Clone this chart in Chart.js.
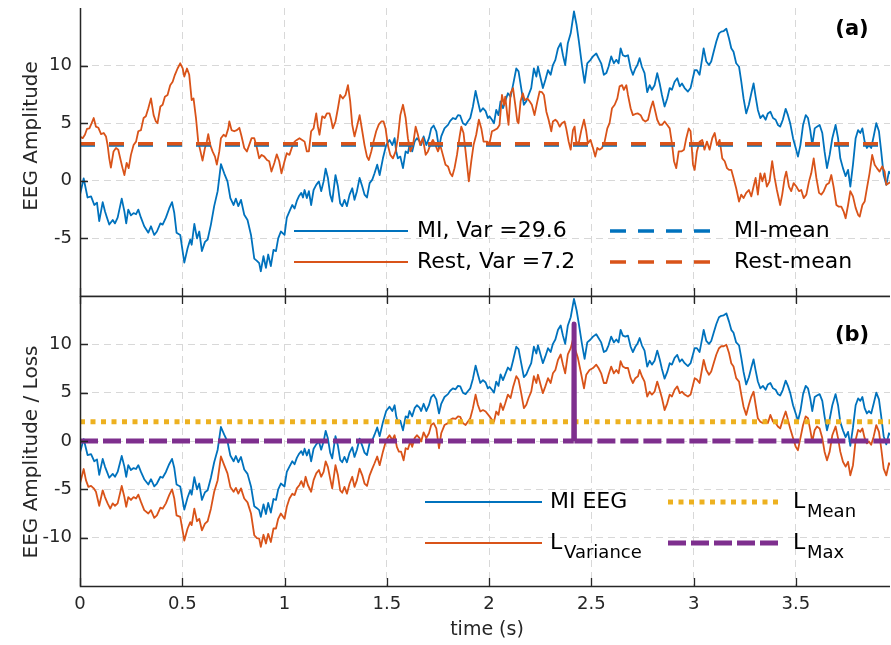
<!DOCTYPE html>
<html><head><meta charset="utf-8">
<script src="https://cdn.jsdelivr.net/npm/chart.js@4.4.0/dist/chart.umd.min.js"></script>
<style>
html,body{margin:0;padding:0;background:#fff;width:891px;height:645px;overflow:hidden;}
#wa{position:absolute;left:0;top:0;width:891px;height:297px;}
#wb{position:absolute;left:0;top:290px;width:891px;height:355px;}
canvas{display:block;}
</style></head><body>
<div id="wa"><canvas id="ca" width="891" height="297"></canvas></div>
<div id="wb"><canvas id="cb" width="891" height="355"></canvas></div>
<script>
// ---------------- data ----------------
const miTime = [0.000,0.018,0.037,0.054,0.070,0.083,0.094,0.111,0.122,0.132,0.143,0.160,0.171,0.184,0.204,0.217,0.226,0.236,0.249,0.262,0.274,0.285,0.298,0.314,0.334,0.347,0.363,0.376,0.393,0.404,0.420,0.436,0.450,0.461,0.472,0.490,0.510,0.526,0.539,0.546,0.559,0.572,0.583,0.596,0.611,0.624,0.640,0.656,0.673,0.689,0.705,0.721,0.735,0.751,0.762,0.774,0.787,0.803,0.819,0.836,0.852,0.865,0.876,0.884,0.897,0.909,0.920,0.933,0.946,0.958,0.969,0.982,1.000,1.011,1.024,1.038,1.049,1.060,1.070,1.082,1.090,1.098,1.109,1.119,1.130,1.142,1.155,1.168,1.179,1.191,1.201,1.212,1.223,1.233,1.249,1.261,1.272,1.282,1.293,1.305,1.318,1.331,1.342,1.354,1.367,1.380,1.391,1.403,1.416,1.429,1.440,1.453,1.465,1.481,1.497,1.513,1.527,1.538,1.546,1.554,1.566,1.579,1.592,1.603,1.611,1.624,1.636,1.647,1.660,1.668,1.680,1.693,1.706,1.717,1.729,1.742,1.755,1.766,1.782,1.799,1.810,1.823,1.836,1.848,1.859,1.872,1.885,1.896,1.908,1.921,1.934,1.945,1.957,1.970,1.983,1.994,2.002,2.014,2.024,2.035,2.046,2.056,2.068,2.079,2.092,2.105,2.117,2.133,2.144,2.157,2.170,2.182,2.193,2.206,2.219,2.231,2.239,2.252,2.263,2.275,2.288,2.301,2.312,2.324,2.337,2.350,2.361,2.372,2.385,2.399,2.415,2.428,2.439,2.454,2.467,2.480,2.496,2.508,2.524,2.535,2.548,2.561,2.573,2.584,2.597,2.610,2.622,2.633,2.643,2.654,2.666,2.679,2.692,2.703,2.715,2.725,2.736,2.747,2.760,2.773,2.785,2.796,2.809,2.822,2.834,2.845,2.858,2.871,2.883,2.894,2.907,2.920,2.932,2.943,2.956,2.972,2.985,3.005,3.016,3.029,3.042,3.049,3.062,3.075,3.086,3.098,3.111,3.124,3.135,3.147,3.160,3.173,3.184,3.195,3.208,3.222,3.233,3.244,3.257,3.270,3.282,3.293,3.303,3.314,3.326,3.339,3.352,3.363,3.375,3.388,3.401,3.412,3.423,3.436,3.450,3.461,3.472,3.486,3.499,3.510,3.522,3.535,3.548,3.559,3.570,3.580,3.592,3.603,3.616,3.629,3.640,3.652,3.665,3.678,3.694,3.706,3.717,3.730,3.743,3.755,3.766,3.779,3.792,3.804,3.815,3.825,3.836,3.847,3.857,3.868,3.880,3.893,3.906,3.917,3.929,3.942,3.955,3.960];
const miValues = [-1.2,0.2,-1.45,-1.35,-2.1,-1.9,-3.5,-1.85,-2.65,-3.2,-3.8,-3.4,-3.7,-3.2,-1.55,-2.65,-3.7,-2.5,-3.0,-2.8,-2.9,-2.5,-3.2,-3.95,-4.5,-3.95,-4.7,-4.4,-3.7,-3.8,-3.2,-2.4,-1.85,-2.8,-4.5,-4.7,-7.1,-5.85,-5.1,-5.55,-3.75,-5.0,-4.4,-6.1,-5.3,-5.1,-3.8,-2.2,-0.9,1.45,0.65,-0.05,-1.5,-2.1,-1.55,-2.2,-1.65,-2.95,-3.4,-4.7,-6.75,-6.95,-7.15,-7.85,-6.55,-7.55,-6.4,-7.4,-6.0,-6.1,-5.0,-4.4,-4.7,-3.2,-2.65,-2.1,-2.4,-1.75,-1.35,-1.05,-1.45,-0.8,-1.5,-0.9,-2.1,-0.8,-0.35,-0.05,-0.9,-0.05,1.05,0.25,-1.2,-1.8,0.5,-0.5,-1.95,-2.2,-1.65,-2.2,-1.2,-0.65,-1.65,-0.9,0.25,-0.5,-1.2,-1.45,-0.2,0.1,0.65,1.4,0.5,1.95,3.1,3.55,3.1,3.7,2.55,1.95,2.1,1.1,2.55,2.4,3.1,2.55,3.4,3.7,3.45,3.1,3.85,3.1,3.7,4.55,4.8,4.3,2.85,3.85,4.55,4.85,5.2,5.45,5.35,5.7,5.65,5.0,4.85,5.15,5.45,6.45,7.8,6.9,6.0,6.3,6.05,5.45,5.6,5.3,5.0,6.15,5.7,6.9,6.3,6.9,7.6,7.3,8.3,9.75,9.5,8.05,6.6,6.9,7.45,8.05,9.75,9.05,9.9,8.9,8.05,8.75,9.6,9.2,10.05,10.5,11.5,11.95,10.9,10.05,11.95,12.8,14.7,13.5,12.1,10.05,8.5,10.2,10.5,10.8,11.05,10.65,10.2,9.2,9.35,9.9,10.8,10.2,10.5,10.2,11.5,10.9,10.8,10.9,9.75,9.2,9.75,10.05,10.65,9.9,9.35,7.7,8.3,7.9,8.3,9.35,8.45,7.45,6.45,7.15,8.05,7.9,8.6,8.9,8.2,8.45,8.05,7.75,8.05,9.6,9.6,9.2,10.65,11.5,10.35,10.05,10.35,11.2,12.1,12.8,12.95,13.0,13.2,12.35,11.5,11.2,10.2,9.9,8.6,7.15,5.85,6.6,7.6,8.45,7.3,6.15,5.45,5.7,5.3,5.85,6.0,5.45,5.3,4.85,4.7,5.3,6.25,5.7,5.0,3.7,2.85,2.1,3.1,4.85,5.7,5.45,4.4,3.1,4.55,4.7,4.85,4.15,2.55,1.1,2.25,3.7,4.85,3.7,1.95,1.1,0.4,0.95,-0.5,1.4,3.7,4.4,4.15,4.55,3.4,2.85,3.1,2.85,3.85,5.0,4.3,2.55,0.5,-0.35,0.8,0.6];

const restTime = [0.000,0.013,0.024,0.034,0.046,0.057,0.067,0.078,0.090,0.103,0.116,0.127,0.135,0.143,0.151,0.164,0.176,0.187,0.200,0.208,0.217,0.228,0.238,0.249,0.262,0.274,0.285,0.298,0.311,0.322,0.334,0.347,0.360,0.371,0.379,0.393,0.404,0.415,0.428,0.441,0.453,0.464,0.477,0.490,0.502,0.510,0.523,0.534,0.546,0.555,0.567,0.578,0.591,0.599,0.611,0.620,0.627,0.637,0.648,0.660,0.669,0.681,0.689,0.702,0.713,0.725,0.730,0.741,0.754,0.767,0.779,0.790,0.803,0.816,0.827,0.839,0.852,0.865,0.876,0.888,0.901,0.914,0.925,0.936,0.950,0.962,0.974,0.985,1.000,1.011,1.024,1.038,1.049,1.060,1.073,1.086,1.098,1.109,1.119,1.130,1.142,1.155,1.163,1.171,1.184,1.196,1.207,1.220,1.228,1.236,1.249,1.261,1.272,1.285,1.298,1.310,1.321,1.331,1.342,1.354,1.367,1.380,1.391,1.403,1.412,1.424,1.435,1.448,1.461,1.473,1.484,1.494,1.505,1.517,1.530,1.543,1.554,1.566,1.579,1.592,1.603,1.615,1.628,1.641,1.652,1.663,1.676,1.690,1.701,1.712,1.725,1.738,1.750,1.761,1.774,1.787,1.799,1.810,1.820,1.831,1.843,1.856,1.864,1.875,1.885,1.892,1.901,1.913,1.924,1.937,1.950,1.962,1.973,1.991,2.002,2.014,2.027,2.040,2.051,2.063,2.073,2.079,2.089,2.095,2.105,2.117,2.128,2.138,2.144,2.154,2.165,2.174,2.187,2.198,2.209,2.222,2.236,2.247,2.258,2.268,2.280,2.291,2.304,2.312,2.324,2.333,2.345,2.356,2.369,2.377,2.389,2.399,2.410,2.418,2.426,2.438,2.451,2.464,2.475,2.483,2.496,2.508,2.519,2.529,2.540,2.552,2.565,2.578,2.589,2.601,2.614,2.627,2.638,2.650,2.659,2.671,2.679,2.692,2.703,2.715,2.728,2.741,2.752,2.764,2.777,2.790,2.801,2.813,2.822,2.834,2.845,2.858,2.871,2.883,2.894,2.904,2.915,2.927,2.940,2.953,2.964,2.976,2.985,2.997,3.005,3.016,3.029,3.042,3.053,3.065,3.078,3.091,3.103,3.114,3.127,3.140,3.152,3.163,3.173,3.184,3.195,3.208,3.222,3.233,3.244,3.257,3.270,3.282,3.293,3.303,3.314,3.326,3.336,3.347,3.358,3.371,3.384,3.396,3.407,3.423,3.433,3.445,3.453,3.466,3.477,3.489,3.502,3.515,3.526,3.538,3.551,3.564,3.575,3.587,3.600,3.613,3.624,3.636,3.649,3.662,3.673,3.684,3.698,3.710,3.722,3.733,3.743,3.755,3.766,3.779,3.792,3.804,3.812,3.825,3.836,3.847,3.860,3.873,3.885,3.896,3.909,3.922,3.934,3.942,3.955,3.960];
const restValues = [3.85,3.7,4.0,4.5,4.55,5.0,5.45,4.7,4.6,4.05,4.15,3.85,3.1,1.95,1.15,2.55,2.85,2.7,1.7,1.1,0.5,1.55,1.1,2.25,3.1,3.4,4.3,4.4,5.45,5.6,6.3,7.15,5.7,5.15,5.0,6.45,6.6,7.3,7.45,8.3,8.6,9.2,9.75,10.2,9.75,9.05,9.75,9.2,7.0,7.15,5.45,3.4,2.4,1.75,2.85,3.4,4.05,3.1,2.55,2.1,1.4,2.55,3.7,4.0,3.85,4.55,5.15,4.4,4.3,4.4,4.6,3.85,2.85,2.55,3.1,3.7,3.7,2.85,1.95,2.25,2.1,1.8,1.7,0.8,1.55,2.3,1.7,0.65,1.7,2.4,2.25,3.0,3.4,3.55,3.7,3.55,3.4,2.55,2.55,4.3,4.55,5.85,4.7,4.0,5.6,5.45,5.85,5.85,5.3,4.55,5.15,6.3,7.45,7.15,7.45,8.3,6.9,4.85,3.85,4.7,5.7,4.3,3.1,2.1,1.8,2.55,3.4,4.3,4.9,5.15,5.15,4.55,3.1,2.25,1.95,2.55,3.7,5.7,6.6,5.45,3.7,2.55,3.1,4.7,4.0,3.1,3.7,2.25,2.55,3.1,3.55,3.1,2.55,3.1,2.25,1.4,1.25,0.65,0.4,1.1,2.25,3.85,4.7,4.15,2.55,1.4,-0.05,1.7,3.1,4.0,5.3,4.55,3.4,3.4,3.25,4.3,4.4,4.55,4.85,7.45,6.6,7.3,5.7,4.85,7.6,8.05,6.6,5.15,5.0,6.9,7.6,7.0,7.15,6.9,6.6,5.7,6.9,7.75,7.7,7.45,6.0,5.3,4.3,5.15,5.3,5.15,4.7,5.0,5.15,4.55,3.4,2.7,4.4,4.7,3.4,3.25,4.4,5.3,4.3,3.25,3.55,2.85,2.1,2.85,2.7,2.85,3.4,4.55,5.0,6.3,6.6,7.15,8.2,8.3,7.9,8.3,7.45,6.3,5.7,5.8,5.85,5.7,5.3,5.15,5.3,6.3,6.9,6.0,5.3,4.85,4.85,5.15,4.85,4.55,3.25,1.7,1.1,2.55,2.55,2.7,3.7,4.55,4.3,1.4,0.95,2.55,3.4,3.55,2.7,3.4,2.7,3.7,4.15,3.1,3.55,1.95,1.7,1.1,0.95,0.95,0.25,-0.65,-1.8,-1.2,-1.5,-1.05,-0.8,-1.35,-0.5,0.25,-1.2,0.65,-0.05,0.65,-0.5,-0.05,1.7,0.25,-0.8,-2.1,-1.2,0.25,0.8,-0.5,-0.9,-0.2,-0.5,-0.9,-0.8,-1.5,-1.2,-0.05,0.65,1.95,0.25,-1.05,-1.2,-0.9,-0.35,-0.2,0.5,-0.5,-2.1,-2.25,-2.25,-2.65,-3.25,-2.1,-0.9,-1.35,-2.35,-2.95,-3.1,-2.1,-1.8,-0.65,0.65,2.25,1.4,1.1,0.8,1.25,0.8,-0.35,-0.2,-0.1];

const lVarTime = [0.000,0.018,0.029,0.041,0.054,0.067,0.078,0.094,0.111,0.122,0.135,0.148,0.160,0.171,0.184,0.204,0.217,0.226,0.236,0.249,0.262,0.274,0.285,0.298,0.314,0.334,0.347,0.363,0.376,0.393,0.404,0.420,0.436,0.450,0.461,0.472,0.490,0.510,0.526,0.539,0.546,0.559,0.572,0.583,0.596,0.611,0.624,0.640,0.656,0.673,0.689,0.705,0.721,0.735,0.751,0.762,0.774,0.787,0.803,0.819,0.836,0.852,0.865,0.876,0.884,0.897,0.909,0.920,0.933,0.946,0.958,0.969,0.982,1.000,1.011,1.024,1.038,1.049,1.060,1.073,1.082,1.093,1.103,1.114,1.130,1.142,1.155,1.168,1.179,1.191,1.201,1.212,1.223,1.233,1.249,1.261,1.272,1.282,1.293,1.305,1.318,1.331,1.342,1.354,1.367,1.380,1.391,1.403,1.416,1.429,1.440,1.453,1.465,1.481,1.497,1.513,1.527,1.538,1.549,1.559,1.570,1.582,1.592,1.603,1.615,1.624,1.636,1.647,1.660,1.668,1.680,1.693,1.706,1.717,1.729,1.742,1.755,1.766,1.782,1.799,1.810,1.823,1.836,1.848,1.859,1.872,1.885,1.896,1.908,1.921,1.934,1.945,1.957,1.970,1.983,2.002,2.014,2.024,2.035,2.046,2.056,2.068,2.079,2.092,2.105,2.117,2.133,2.144,2.157,2.170,2.182,2.193,2.206,2.219,2.231,2.239,2.252,2.263,2.275,2.288,2.301,2.312,2.324,2.337,2.350,2.361,2.372,2.385,2.399,2.410,2.421,2.434,2.451,2.464,2.475,2.491,2.508,2.524,2.535,2.548,2.561,2.573,2.584,2.597,2.610,2.622,2.633,2.643,2.654,2.666,2.679,2.692,2.703,2.715,2.728,2.736,2.747,2.760,2.773,2.785,2.796,2.809,2.822,2.834,2.845,2.858,2.871,2.883,2.894,2.907,2.920,2.932,2.943,2.956,2.972,2.985,3.005,3.016,3.029,3.042,3.049,3.062,3.075,3.086,3.098,3.111,3.124,3.135,3.147,3.160,3.173,3.184,3.195,3.208,3.222,3.233,3.244,3.257,3.270,3.282,3.293,3.303,3.314,3.326,3.339,3.352,3.363,3.375,3.388,3.401,3.412,3.423,3.436,3.450,3.461,3.472,3.486,3.499,3.510,3.522,3.535,3.548,3.559,3.570,3.580,3.592,3.603,3.616,3.629,3.640,3.652,3.665,3.678,3.694,3.706,3.717,3.730,3.743,3.755,3.766,3.779,3.792,3.804,3.815,3.825,3.836,3.847,3.857,3.868,3.880,3.893,3.906,3.917,3.929,3.942,3.955,3.960];
const lVarValues = [-4.4,-2.9,-4.05,-4.75,-4.65,-4.9,-5.25,-6.7,-5.1,-5.8,-6.45,-7.0,-6.45,-6.7,-6.45,-4.65,-5.8,-6.8,-5.8,-6.1,-5.8,-5.95,-5.55,-6.3,-7.15,-7.5,-7.15,-7.95,-7.7,-6.9,-7.0,-6.45,-5.6,-5.0,-5.95,-7.7,-7.85,-10.3,-9.05,-8.4,-8.7,-7.0,-8.3,-8.05,-9.25,-8.55,-8.3,-7.0,-5.25,-4.05,-1.6,-2.5,-3.35,-4.75,-5.25,-4.85,-5.45,-4.9,-5.95,-6.35,-7.5,-9.75,-10.05,-10.1,-10.95,-9.7,-10.6,-9.6,-10.45,-9.05,-9.05,-8.05,-7.5,-8.05,-6.8,-5.95,-5.45,-5.6,-4.9,-4.55,-4.15,-4.75,-3.7,-4.55,-5.25,-4.05,-3.35,-3.0,-3.7,-3.2,-2.1,-2.7,-3.9,-4.9,-2.5,-3.55,-5.1,-5.35,-4.75,-5.45,-4.4,-3.7,-4.75,-4.05,-2.85,-3.55,-4.4,-4.65,-3.55,-2.85,-2.3,-1.6,-2.5,-1.1,0.1,0.6,0.1,0.6,-0.6,-1.1,-1.1,-2.0,-0.75,-0.85,-0.05,-0.6,0.3,0.6,0.3,-0.05,0.9,0.3,0.8,1.65,1.85,1.3,-0.75,0.8,1.65,1.85,2.2,2.35,2.3,2.55,2.5,1.85,1.65,2.0,2.35,3.4,4.8,3.75,3.05,3.2,3.05,2.55,2.2,2.0,3.05,2.7,3.9,3.2,3.9,4.8,4.45,5.55,6.7,6.35,4.95,3.4,3.75,4.45,5.1,6.7,6.0,6.85,5.8,4.95,5.65,6.5,6.0,7.0,7.35,8.4,8.95,7.9,7.0,8.95,9.6,10.5,9.45,8.6,6.85,5.45,6.85,7.35,7.55,7.9,7.55,7.0,6.0,6.0,6.85,7.7,7.0,7.35,7.0,8.25,7.7,7.55,7.55,6.5,6.0,6.5,6.7,7.35,6.7,6.15,4.6,5.1,4.8,5.1,6.15,5.3,4.45,3.2,3.9,4.8,4.6,5.3,5.65,4.95,5.1,4.8,4.6,4.8,6.5,6.35,6.0,7.55,8.4,7.35,6.85,7.2,8.05,8.95,9.6,9.8,9.8,9.95,9.1,8.05,7.7,6.5,6.15,4.8,3.55,2.7,3.75,4.6,5.1,3.75,2.35,2.0,1.85,2.2,1.85,2.7,2.0,1.85,1.5,1.3,2.2,3.05,2.2,1.3,0.3,-0.6,-0.95,0.3,1.65,2.55,2.35,1.15,-0.05,1.15,1.5,1.3,0.3,-1.1,-2.0,-1.1,0.6,1.5,0.3,-1.1,-2.15,-2.65,-2.15,-3.55,-2.5,0.1,1.15,0.95,1.3,0.3,-0.25,-0.05,-0.4,0.45,1.65,0.95,-0.75,-2.85,-3.55,-2.3,-2.5];

const lMaxTime = [0, 2.4140, 2.4155, 2.4170, 3.960];
const lMaxValues = [0, 0, 12.1, 0, 0];

const miMean = 3.1;
const restMean = 3.22;
const lMean = 2.0;

const xTicks = [0, 0.5, 1, 1.5, 2, 2.5, 3, 3.5];
const xTickLabels = ['0', '0.5', '1', '1.5', '2', '2.5', '3', '3.5'];
const yTicksA = [-5, 0, 5, 10];
const yTicksB = [-10, -5, 0, 5, 10];
const legendA = ['MI, Var =29.6', 'Rest, Var =7.2', 'MI-mean', 'Rest-mean'];
const legendB = ['MI EEG', 'L', 'Variance', 'L', 'Mean', 'L', 'Max'];

// ---------------- styling ----------------
const XMAX = 3.96;
const BLUE = '#0072BD', ORANGE = '#D95319', YELLOW = '#EDB120', PURPLE = '#7E2F8E';
const AXIS = '#262626', GRID = '#d8d8d8';
const FONT = "'DejaVu Sans', sans-serif";
const LW = 1.8;

function pts(t, v) { return t.map((x, i) => ({ x: x, y: v[i] })); }
function flat(v) { return [{ x: 0, y: v }, { x: XMAX, y: v }]; }

function baseScales(yMin, yMax, yTicks, xHeight, showX) {
  return {
    x: {
      type: 'linear', min: 0, max: XMAX,
      afterBuildTicks: s => { s.ticks = xTicks.map(v => ({ value: v })); },
      afterFit: s => { s.height = xHeight; s.paddingLeft = 0; s.paddingRight = 0; s.paddingTop = 0; s.paddingBottom = 0; },
      ticks: {
        display: showX, autoSkip: false, maxRotation: 0, padding: 8,
        color: AXIS, font: { family: FONT, size: 18 },
        callback: (v) => { const i = xTicks.indexOf(v); return i >= 0 ? xTickLabels[i] : ''; }
      },
      grid: { color: GRID, lineWidth: 1, drawTicks: false },
      border: { display: false, dash: [7, 5] }
    },
    y: {
      type: 'linear', min: yMin, max: yMax,
      afterBuildTicks: s => { s.ticks = yTicks.map(v => ({ value: v })); },
      afterFit: s => { s.width = 80; s.paddingLeft = 0; s.paddingRight = 0; s.paddingTop = 0; s.paddingBottom = 0; },
      ticks: { padding: 8, color: AXIS, font: { family: FONT, size: 18 } },
      grid: { color: GRID, lineWidth: 1, drawTicks: false },
      border: { display: false, dash: [7, 5] }
    }
  };
}

function drawFrame(chart, yTicks, withTop) {
  const { ctx, chartArea: a, scales } = chart;
  ctx.save();
  ctx.strokeStyle = AXIS;
  ctx.lineWidth = 1.5;
  ctx.beginPath();
  ctx.moveTo(a.left + 0.5, a.top); ctx.lineTo(a.left + 0.5, a.bottom + 0.5); ctx.lineTo(a.right, a.bottom + 0.5);
  if (withTop) { ctx.moveTo(a.left, a.top + 0.5); ctx.lineTo(a.right, a.top + 0.5); }
  ctx.stroke();
  ctx.lineWidth = 1.3;
  ctx.beginPath();
  yTicks.forEach(v => { const y = Math.round(scales.y.getPixelForValue(v)) + 0.5; ctx.moveTo(a.left, y); ctx.lineTo(a.left + 8, y); });
  xTicks.forEach(v => {
    const x = Math.round(scales.x.getPixelForValue(v)) + 0.5;
    ctx.moveTo(x, a.bottom); ctx.lineTo(x, a.bottom - 8);
    if (withTop) { ctx.moveTo(x, a.top); ctx.lineTo(x, a.top + 8); }
  });
  ctx.stroke();
  ctx.restore();
}

function hline(ctx, x1, x2, y, color, w, dash) {
  ctx.save();
  ctx.strokeStyle = color; ctx.lineWidth = w; ctx.setLineDash(dash || []);
  ctx.lineCap = 'butt';
  ctx.beginPath(); ctx.moveTo(x1, y); ctx.lineTo(x2, y); ctx.stroke();
  ctx.restore();
}
function text(ctx, s, x, y, size, opts) {
  opts = opts || {};
  ctx.save();
  ctx.fillStyle = opts.color || '#000';
  ctx.font = (opts.bold ? 'bold ' : '') + size + 'px ' + FONT;
  ctx.textAlign = opts.align || 'left';
  ctx.textBaseline = opts.baseline || 'middle';
  if (opts.rotate) { ctx.translate(x, y); ctx.rotate(opts.rotate); ctx.fillText(s, 0, 0); }
  else ctx.fillText(s, x, y);
  ctx.restore();
}

// ---------------- panel (a) ----------------
const panelA = {
  id: 'panelA',
  afterDraw(chart) {
    const ctx = chart.ctx;
    drawFrame(chart, yTicksA, false);
    text(ctx, 'EEG Amplitude', 32, 136, 20, { align: 'center', rotate: -Math.PI / 2, color: AXIS });
    text(ctx, '(a)', 852, 30, 21, { align: 'center', bold: true });
    // legend
    hline(ctx, 294, 408, 231, BLUE, LW);
    hline(ctx, 294, 408, 262, ORANGE, LW);
    text(ctx, legendA[0], 417, 231, 22);
    text(ctx, legendA[1], 417, 262, 22);
    hline(ctx, 610, 711, 231, BLUE, 3.5, [16, 12]);
    hline(ctx, 610, 711, 262, ORANGE, 3.5, [16, 12]);
    text(ctx, legendA[2], 734, 231, 22);
    text(ctx, legendA[3], 734, 262, 22);
  }
};

new Chart(document.getElementById('ca'), {
  type: 'line',
  data: {
    datasets: [
      { label: legendA[3], data: flat(restMean), borderColor: ORANGE, borderWidth: 3.5, borderDash: [15, 14], order: 0 },
      { label: legendA[2], data: flat(miMean), borderColor: BLUE, borderWidth: 3.5, borderDash: [15, 14], order: 1 },
      { label: legendA[1], data: pts(restTime, restValues), borderColor: ORANGE, borderWidth: LW, order: 2 },
      { label: legendA[0], data: pts(miTime, miValues), borderColor: BLUE, borderWidth: LW, order: 3 }
    ]
  },
  options: {
    responsive: false, animation: false, parsing: false,
    elements: { point: { radius: 0 }, line: { tension: 0, borderCapStyle: 'butt', borderJoinStyle: 'round' } },
    plugins: { legend: { display: false }, tooltip: { enabled: false } },
    layout: { padding: { top: 8, right: 1, left: 0, bottom: 0 } },
    scales: baseScales(-10, 15, yTicksA, 1, false)
  },
  plugins: [panelA]
});

// ---------------- panel (b) ----------------
const panelB = {
  id: 'panelB',
  afterDraw(chart) {
    const ctx = chart.ctx;
    drawFrame(chart, yTicksB, true);
    text(ctx, 'EEG Amplitude / Loss', 32, 162, 20, { align: 'center', rotate: -Math.PI / 2, color: AXIS });
    text(ctx, '(b)', 852, 46, 21, { align: 'center', bold: true });
    text(ctx, 'time (s)', 487, 340, 19, { align: 'center', color: AXIS });
    // legend (page y minus 290)
    const r1 = 212, r2 = 253;
    hline(ctx, 425, 542, r1, BLUE, LW);
    hline(ctx, 425, 542, r2, ORANGE, LW);
    text(ctx, legendB[0], 550, r1, 22);
    text(ctx, legendB[1], 550, r2, 22);
    text(ctx, legendB[2], 564, r2 + 10, 18);
    hline(ctx, 668, 783, r1, YELLOW, 5, [5, 5.5]);
    hline(ctx, 668, 783, r2, PURPLE, 5, [18, 5]);
    text(ctx, legendB[3], 793, r1, 22);
    text(ctx, legendB[4], 807, r1 + 10, 18);
    text(ctx, legendB[5], 793, r2, 22);
    text(ctx, legendB[6], 807, r2 + 10, 18);
  }
};

new Chart(document.getElementById('cb'), {
  type: 'line',
  data: {
    datasets: [
      { label: 'L_Max', data: pts(lMaxTime, lMaxValues), borderColor: PURPLE, borderWidth: 5, borderDash: [18, 5], order: 0,
        segment: { borderDash: c => (c.p0.parsed.y !== 0 || c.p1.parsed.y !== 0) ? [] : undefined } },
      { label: 'L_Mean', data: flat(lMean), borderColor: YELLOW, borderWidth: 5, borderDash: [5, 5.5], order: 1 },
      { label: 'L_Variance', data: pts(lVarTime, lVarValues), borderColor: ORANGE, borderWidth: LW, order: 2 },
      { label: 'MI EEG', data: pts(miTime, miValues), borderColor: BLUE, borderWidth: LW, order: 3 }
    ]
  },
  options: {
    responsive: false, animation: false, parsing: false,
    elements: { point: { radius: 0 }, line: { tension: 0, borderCapStyle: 'butt', borderJoinStyle: 'round' } },
    plugins: { legend: { display: false }, tooltip: { enabled: false } },
    layout: { padding: { top: 6, right: 1, left: 0, bottom: 0 } },
    scales: baseScales(-15, 15, yTicksB, 59, true)
  },
  plugins: [panelB]
});
</script>
</body></html>
